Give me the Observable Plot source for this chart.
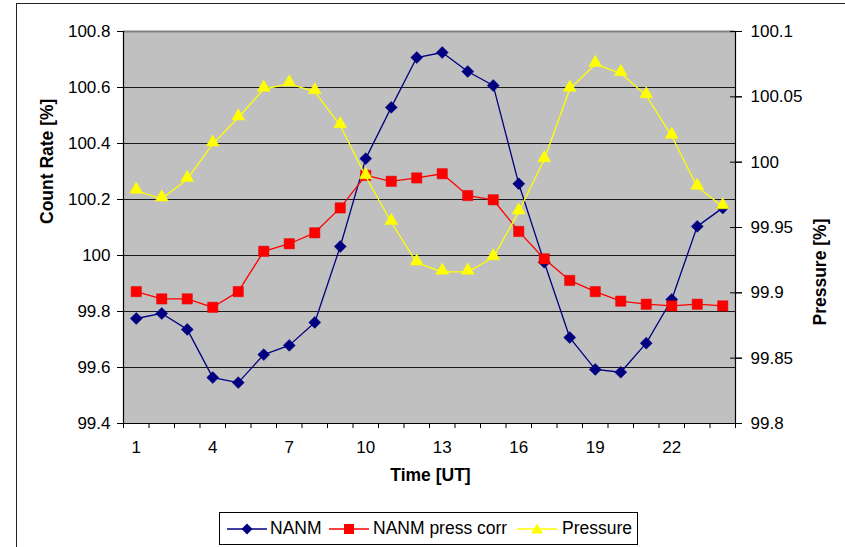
<!DOCTYPE html>
<html>
<head>
<meta charset="utf-8">
<script src="https://cdn.jsdelivr.net/npm/d3@7"></script>
<script src="https://cdn.jsdelivr.net/npm/@observablehq/plot@0.6"></script>
<style>
  html, body { margin: 0; padding: 0; background: #fff; }
  #wrap { position: relative; width: 845px; height: 547px; overflow: hidden; font-family: "Liberation Sans", Arial, sans-serif; }
  #border { position: absolute; left: 16px; top: 3px; width: 900px; height: 600px; border-left: 1.5px solid #222; border-top: 1.5px solid #222; }
  #chart { position: absolute; left: 0; top: 0; }
  #legend { position: absolute; left: 219px; top: 512px; width: 417px; height: 31px; border: 1px solid #000; background: #fff; font-size: 17.5px; }
  #legend .it { position: absolute; top: 0; height: 31px; line-height: 31px; white-space: nowrap; color: #000; }
  #legend svg { position: absolute; top: 9px; }
</style>
</head>
<body>
<div id="wrap">
  <div id="border"></div>
  <div id="chart"></div>
  <div id="legend"></div>
</div>
<script>
// ---- data ----
const hours = [1,2,3,4,5,6,7,8,9,10,11,12,13,14,15,16,17,18,19,20,21,22,23,24];
const nanm = [99.775, 99.793, 99.736, 99.564, 99.546, 99.646, 99.679, 99.761, 100.032, 100.346, 100.529, 100.707, 100.725, 100.657, 100.607, 100.256, 99.976, 99.707, 99.593, 99.583, 99.687, 99.843, 100.104, 100.170];
const nanmCorr = [99.871, 99.845, 99.845, 99.815, 99.871, 100.015, 100.042, 100.081, 100.170, 100.286, 100.265, 100.277, 100.292, 100.214, 100.199, 100.086, 99.988, 99.911, 99.871, 99.837, 99.826, 99.820, 99.826, 99.820];
const pressure = [99.978, 99.972, 99.987, 100.014, 100.034, 100.056, 100.060, 100.054, 100.028, 99.989, 99.954, 99.923, 99.916, 99.916, 99.927, 99.962, 100.002, 100.056, 100.075, 100.068, 100.051, 100.020, 99.981, 99.966];
const leftTicks = [99.4, 99.6, 99.8, 100, 100.2, 100.4, 100.6, 100.8];
const rightTicks = [99.8, 99.85, 99.9, 99.95, 100, 100.05, 100.1];
const xTickLabels = [1, 4, 7, 10, 13, 16, 19, 22];
const seriesNames = ["NANM", "NANM press corr", "Pressure"];
const colors = ["#000080", "#ff0000", "#ffff00"];

// ---- scales ----
const leftDomain = [99.4, 100.8];
const rightDomain = [99.8, 100.1];
const toLeft = p => leftDomain[0] + (p - rightDomain[0]) * (leftDomain[1] - leftDomain[0]) / (rightDomain[1] - rightDomain[0]);
const fromLeft = v => rightDomain[0] + (v - leftDomain[0]) * (rightDomain[1] - rightDomain[0]) / (leftDomain[1] - leftDomain[0]);

const rows = hours.map((h, i) => ({h, nanm: nanm[i], corr: nanmCorr[i], pres: pressure[i]}));
const boundaries = d3.range(hours.length + 1).map(i => hours[0] - 0.5 + i);
const inner = leftTicks.filter(t => t > leftDomain[0] && t < leftDomain[1]);

const chart = Plot.plot({
  width: 845,
  height: 500,
  marginLeft: 123,
  marginRight: 110,
  marginTop: 31,
  marginBottom: 77,
  style: {fontFamily: '"Liberation Sans", Arial, sans-serif', fontSize: "17px", color: "#000", background: "transparent", overflow: "visible"},
  x: {domain: [hours[0] - 0.5, hours[hours.length - 1] + 0.5], axis: null},
  y: {domain: leftDomain, axis: null},
  marks: [
    Plot.frame({fill: "#c0c0c0", stroke: null}),
    Plot.ruleY(inner, {stroke: "#1a1a1a", strokeWidth: 1}),
    Plot.ruleY([leftDomain[1]], {stroke: "#808080", strokeWidth: 2}),
    Plot.ruleY([leftDomain[0]], {stroke: "#000", strokeWidth: 1}),
    Plot.ruleX([hours[0] - 0.5, hours[hours.length - 1] + 0.5], {stroke: "#000", strokeWidth: 1.2}),
    // left axis
    Plot.axisY({anchor: "left", ticks: leftTicks, tickSize: 6, tickPadding: 7, label: null,
      tickFormat: d => String(+d.toFixed(1)), fontSize: 17}),
    // right axis
    Plot.axisY({anchor: "right", ticks: rightTicks.map(toLeft), tickSize: 6, tickPadding: 9, label: null,
      tickFormat: d => String(+fromLeft(d).toFixed(2)), fontSize: 17}),
    Plot.axisY({anchor: "right", ticks: rightTicks.map(toLeft), tickSize: 12, dx: -6, label: null, tickFormat: () => ""}),
    // bottom axis
    Plot.axisX({anchor: "bottom", ticks: boundaries, tickSize: 5, label: null, tickFormat: () => ""}),
    Plot.axisX({anchor: "bottom", ticks: xTickLabels, tickSize: 0, tickPadding: 17, label: null,
      tickFormat: d => String(d), fontSize: 17}),
    // axis titles
    Plot.text(["Count Rate [%]"], {frameAnchor: "left", dx: -76, dy: -3.5, rotate: -90, fontWeight: "bold", fontSize: 17.5, fill: "#000"}),
    Plot.text(["Pressure [%]"], {frameAnchor: "right", dx: 84.5, dy: -9, rotate: -90, fontWeight: "bold", fontSize: 17.5, fill: "#000"}),
    Plot.text(["Time [UT]"], {frameAnchor: "bottom", dx: 1, dy: 57, fontWeight: "bold", fontSize: 17.5, fill: "#000"}),
    // series
    Plot.line(rows, {x: "h", y: "nanm", stroke: colors[0], strokeWidth: 1.3}),
    Plot.dot(rows, {x: "h", y: "nanm", symbol: "diamond2", r: 5.4, fill: colors[0], stroke: colors[0], strokeWidth: 0.5}),
    Plot.line(rows, {x: "h", y: "corr", stroke: colors[1], strokeWidth: 1.3}),
    Plot.dot(rows, {x: "h", y: "corr", symbol: "square", r: 5.8, fill: colors[1], stroke: "#e00000", strokeWidth: 0.5}),
    Plot.line(rows, {x: "h", y: d => toLeft(d.pres), stroke: colors[2], strokeWidth: 1.3}),
    Plot.dot(rows, {x: "h", y: d => toLeft(d.pres), symbol: "triangle", r: 4.8, fill: colors[2], stroke: colors[2], strokeWidth: 0.5, dy: -1.5})
  ]
});
document.getElementById("chart").appendChild(chart);

// ---- legend ----
const legend = document.getElementById("legend");
const markerSvg = [
  c => `<path d="M20,1.5 L25.5,7 L20,12.5 L14.5,7 Z" fill="${c}"/>`,
  c => `<rect x="15" y="2" width="10" height="10" fill="${c}"/>`,
  c => `<path d="M20,1.5 L26,11.5 L14,11.5 Z" fill="${c}"/>`
];
const lineX = [7, 109, 297];
const textX = [50, 153, 342];
seriesNames.forEach((name, i) => {
  const s = document.createElementNS("http://www.w3.org/2000/svg", "svg");
  s.setAttribute("width", 40); s.setAttribute("height", 14);
  s.style.left = lineX[i] + "px";
  s.innerHTML = `<line x1="0" x2="40" y1="7" y2="7" stroke="${colors[i]}" stroke-width="1.3"/>` + markerSvg[i](colors[i]);
  legend.appendChild(s);
  const t = document.createElement("div");
  t.className = "it"; t.style.left = textX[i] + "px"; t.textContent = name;
  legend.appendChild(t);
});
</script>
</body>
</html>
